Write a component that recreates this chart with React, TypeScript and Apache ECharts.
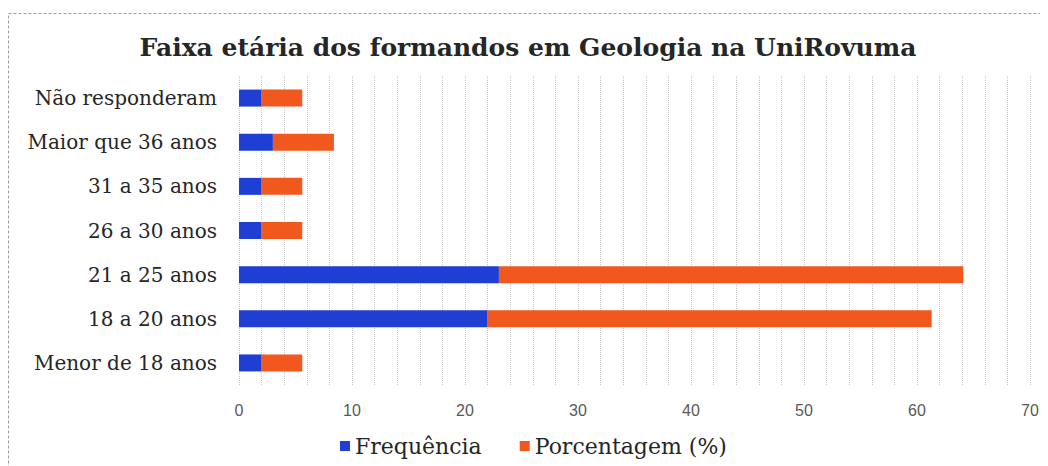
import React, { useEffect, useRef } from "react";
import * as echarts from "echarts";

const categories = [
  "Menor de 18 anos",
  "18 a 20 anos",
  "21 a 25 anos",
  "26 a 30 anos",
  "31 a 35 anos",
  "Maior que 36 anos",
  "Não responderam",
];
const frequencia = [2, 22, 23, 2, 2, 3, 2];
const porcentagem = [3.6, 39.3, 41.1, 3.6, 3.6, 5.4, 3.6];
const seriesNames = ["Frequência", "Porcentagem (%)"];
const titleText = "Faixa etária dos formandos em Geologia na UniRovuma";

export default function App() {
  const ref = useRef<HTMLDivElement>(null);
  useEffect(() => {
    if (!ref.current) return;
    const chart = echarts.init(ref.current, undefined, { renderer: "svg" });
    const serif = "'DejaVu Serif', 'Liberation Serif', serif";
    chart.setOption({
      animation: false,
      backgroundColor: "#ffffff",
      title: {
        text: titleText,
        left: "center",
        top: 22,
        textStyle: {
          fontFamily: serif,
          fontWeight: "bold",
          fontSize: 25,
          color: "#262626",
        },
      },
      graphic: [
        {
          type: "rect",
          shape: { x: 0.5, y: 5.5, width: 1100, height: 500 },
          style: { fill: "none", stroke: "#9a9a9a", lineWidth: 1, lineDash: [3, 2] },
          silent: true,
        },
      ],
      legend: {
        data: seriesNames,
        left: 327,
        top: 422,
        itemWidth: 10,
        itemHeight: 10,
        itemGap: 38,
        icon: "rect",
        textStyle: { fontFamily: serif, fontSize: 22, color: "#262626" },
      },
      grid: { left: 231, right: 18, top: 68, bottom: 81, containLabel: false },
      xAxis: {
        type: "value",
        min: 0,
        max: 70,
        interval: 2,
        axisLine: { show: false },
        axisTick: { show: false },
        axisLabel: {
          margin: 17,
          fontFamily: "'Liberation Sans', Arial, sans-serif",
          fontSize: 16,
          color: "#595959",
          formatter: (v: number) => (v % 10 === 0 ? String(v) : ""),
        },
        splitLine: {
          show: true,
          lineStyle: { color: "#c8c8c8", type: "dotted", width: 1 },
        },
      },
      yAxis: {
        type: "category",
        data: categories,
        axisLine: { show: false },
        axisTick: { show: false },
        axisLabel: {
          margin: 22,
          fontFamily: serif,
          fontSize: 20,
          color: "#262626",
        },
      },
      series: [
        {
          name: seriesNames[0],
          type: "bar",
          stack: "total",
          data: frequencia,
          barWidth: 17,
          itemStyle: { color: "#1f3fd4" },
        },
        {
          name: seriesNames[1],
          type: "bar",
          stack: "total",
          data: porcentagem,
          barWidth: 17,
          itemStyle: { color: "#f0581e" },
        },
      ],
    });
    return () => chart.dispose();
  }, []);
  return <div ref={ref} style={{ width: 1040, height: 458 }} />;
}
